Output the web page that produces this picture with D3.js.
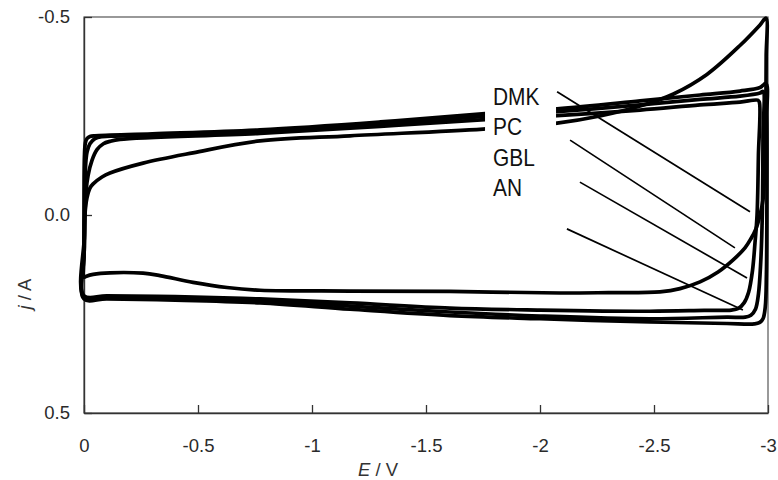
<!DOCTYPE html>
<html>
<head>
<meta charset="utf-8">
<script src="https://cdn.jsdelivr.net/npm/d3@7"></script>
<style>
  body { margin: 0; background: #fff; }
  svg { display: block; }
  text { font-family: "Liberation Sans", Arial, sans-serif; }
</style>
</head>
<body>
<svg id="chart" width="778" height="480"></svg>
<script>
// Cyclic voltammograms: current j (A) against potential E (V), one closed loop per electrolyte.
// Each loop starts at E = 0 on the return branch and runs round the cycle.

const loopAN = [
  [0, 0.212], [0, 0.10], [0, -0.05], [-0.002, -0.15], [-0.006, -0.182], [-0.013, -0.193],
  [-0.026, -0.198], [-0.048, -0.200], [-0.3, -0.205], [-0.772, -0.215], [-1.3, -0.235],
  [-1.759, -0.256], [-2.075, -0.268], [-2.439, -0.288], [-2.702, -0.303], [-2.877, -0.313],
  [-2.965, -0.322], [-2.991, -0.332], [-2.995, -0.25], [-2.995, 0.0], [-2.993, 0.15],
  [-2.988, 0.232], [-2.978, 0.262], [-2.962, 0.272], [-2.94, 0.275], [-2.82, 0.274],
  [-2.482, 0.270], [-2.0, 0.262], [-1.605, 0.254], [-1.167, 0.238], [-0.772, 0.222],
  [-0.4, 0.215], [-0.1, 0.212]
];

const loopDMK = [
  [0, 0.207], [-0.002, 0.05], [-0.004, -0.05], [-0.006, -0.114], [-0.013, -0.158],
  [-0.026, -0.180], [-0.048, -0.193], [-0.079, -0.198], [-0.114, -0.199], [-0.772, -0.211],
  [-1.3, -0.230], [-1.759, -0.249], [-2.075, -0.261], [-2.439, -0.278], [-2.702, -0.292],
  [-2.877, -0.300], [-2.965, -0.308], [-2.978, -0.312], [-2.978, -0.2], [-2.975, 0.0],
  [-2.968, 0.12], [-2.958, 0.2], [-2.945, 0.238], [-2.925, 0.253], [-2.9, 0.258],
  [-2.82, 0.258], [-2.482, 0.262], [-2.0, 0.255], [-1.605, 0.245], [-1.167, 0.23],
  [-0.772, 0.217], [-0.4, 0.210], [-0.1, 0.207]
];

const loopGBL = [
  [0, 0.204], [-0.002, 0.08], [-0.004, 0.0], [-0.009, -0.06], [-0.018, -0.10],
  [-0.035, -0.138], [-0.057, -0.165], [-0.085, -0.180], [-0.114, -0.186], [-0.158, -0.191],
  [-0.772, -0.206], [-1.3, -0.224], [-1.759, -0.241], [-2.075, -0.251], [-2.439, -0.265],
  [-2.702, -0.278], [-2.877, -0.285], [-2.955, -0.290], [-2.962, -0.285], [-2.958, -0.15],
  [-2.952, 0.0], [-2.943, 0.07], [-2.932, 0.14], [-2.915, 0.195], [-2.895, 0.222],
  [-2.87, 0.236], [-2.84, 0.240], [-2.72, 0.241], [-2.482, 0.243], [-2.0, 0.240],
  [-1.605, 0.235], [-1.167, 0.222], [-0.772, 0.212], [-0.4, 0.206], [-0.1, 0.204]
];

const loopPC = [
  [0, 0.157], [0, 0.10], [-0.002, 0.045], [-0.004, 0.0], [-0.013, -0.043], [-0.026, -0.068],
  [-0.039, -0.078], [-0.079, -0.096], [-0.114, -0.106], [-0.259, -0.131], [-0.478, -0.157],
  [-0.772, -0.187], [-1.167, -0.200], [-1.75, -0.217], [-2.075, -0.232], [-2.263, -0.250],
  [-2.439, -0.275], [-2.583, -0.305], [-2.732, -0.355], [-2.877, -0.428], [-2.965, -0.480],
  [-2.991, -0.497], [-2.992, -0.40], [-2.990, -0.25], [-2.985, -0.10], [-2.978, -0.038],
  [-2.965, 0.0], [-2.947, 0.035], [-2.925, 0.060], [-2.899, 0.083], [-2.846, 0.114],
  [-2.781, 0.144], [-2.702, 0.169], [-2.614, 0.186], [-2.526, 0.194], [-2.3, 0.196],
  [-2.088, 0.197], [-1.605, 0.193], [-1.167, 0.192], [-0.772, 0.190], [-0.627, 0.183],
  [-0.478, 0.170], [-0.333, 0.153], [-0.259, 0.147], [-0.114, 0.146], [-0.04, 0.150],
  [-0.008, 0.155]
];

const loops = [loopAN, loopDMK, loopGBL, loopPC];

// Axis ticks and labels
const xTicks = [0, -0.5, -1, -1.5, -2, -2.5, -3];
const xTickLabels = ["0", "-0.5", "-1", "-1.5", "-2", "-2.5", "-3"];
const yTicks = [-0.5, 0, 0.5];
const yTickLabels = ["-0.5", "0.0", "0.5"];

// Electrolyte labels with leader lines pointing at the curves near the vertex potential
const labelNames = ["DMK", "PC", "GBL", "AN"];
const labelAnchor = [-1.794, -0.278];   // baseline of the first label (E, j)
const labelStep = 0.077;                // spacing between label baselines in j units
const leaderStart = [[-2.075, -0.311], [-2.132, -0.189], [-2.175, -0.083], [-2.118, 0.035]];
const leaderEnd = [[-2.921, -0.008], [-2.855, 0.083], [-2.908, 0.159], [-2.890, 0.240]];

const svg = d3.select("#chart");
const margin = { top: 17, right: 10, bottom: 67, left: 84 };
const W = 778, H = 480;

const x = d3.scaleLinear().domain([0, -3]).range([margin.left, W - margin.right]);
const y = d3.scaleLinear().domain([-0.5, 0.5]).range([margin.top, H - margin.bottom]);

// Plot frame
svg.append("rect")
  .attr("x", x(0)).attr("y", y(-0.5))
  .attr("width", x(-3) - x(0)).attr("height", y(0.5) - y(-0.5))
  .attr("fill", "none").attr("stroke", "#555").attr("stroke-width", 1.2);

// Axes
const xAxis = d3.axisBottom(x)
  .tickValues(xTicks)
  .tickFormat((d, i) => xTickLabels[i])
  .tickSizeInner(-8).tickSizeOuter(0).tickPadding(26);
const gx = svg.append("g").attr("transform", `translate(0,${y(0.5)})`).call(xAxis);

const yAxis = d3.axisLeft(y)
  .tickValues(yTicks)
  .tickFormat((d, i) => yTickLabels[i])
  .tickSizeInner(-8).tickSizeOuter(0).tickPadding(14);
const gy = svg.append("g").attr("transform", `translate(${x(0)},0)`).call(yAxis);

[gx, gy].forEach(g => {
  g.select(".domain").attr("stroke", "#333").attr("stroke-width", 1.4);
  g.selectAll(".tick line").attr("stroke", "#333").attr("stroke-width", 1.3);
  g.selectAll(".tick text")
    .attr("fill", "#2a2a2a")
    .style("font-size", "18.5px")
    .style("font-family", '"Liberation Sans", Arial, sans-serif');
});

// Axis titles
const xTitle = svg.append("text")
  .attr("x", 378).attr("y", 476)
  .attr("text-anchor", "middle")
  .attr("fill", "#333")
  .style("font-size", "18.5px");
xTitle.append("tspan").style("font-style", "italic").text("E");
xTitle.append("tspan").text(" / V");

const yTitle = svg.append("text")
  .attr("transform", `translate(31,${294}) rotate(-90)`)
  .attr("text-anchor", "middle")
  .attr("fill", "#333")
  .style("font-size", "18.5px");
yTitle.append("tspan").style("font-style", "italic").text("j");
yTitle.append("tspan").text(" / A");

// Voltammogram loops
const line = d3.line()
  .x(d => x(d[0]))
  .y(d => y(d[1]))
  .curve(d3.curveCatmullRomClosed.alpha(0.5));

svg.append("g")
  .selectAll("path")
  .data(loops)
  .join("path")
  .attr("d", line)
  .attr("fill", "none")
  .attr("stroke", "#000")
  .attr("stroke-width", 3.7)
  .attr("stroke-linejoin", "round");

// Label box and labels
const lx = x(labelAnchor[0]);
const ly0 = y(labelAnchor[1]);
const step = y(labelStep) - y(0);
svg.append("rect")
  .attr("x", lx - 8).attr("y", ly0 - 26)
  .attr("width", 71).attr("height", step * 3 + 36)
  .attr("fill", "#fff");

svg.append("g")
  .selectAll("text")
  .data(labelNames)
  .join("text")
  .attr("transform", (d, i) => `translate(${lx},${ly0 + i * step}) scale(0.87,1)`)
  .attr("fill", "#111")
  .style("font-size", "24px")
  .text(d => d);

// Leader lines
svg.append("g")
  .selectAll("line")
  .data(labelNames)
  .join("line")
  .attr("x1", (d, i) => x(leaderStart[i][0]))
  .attr("y1", (d, i) => y(leaderStart[i][1]))
  .attr("x2", (d, i) => x(leaderEnd[i][0]))
  .attr("y2", (d, i) => y(leaderEnd[i][1]))
  .attr("stroke", "#000")
  .attr("stroke-width", 1.7);
</script>
</body>
</html>
